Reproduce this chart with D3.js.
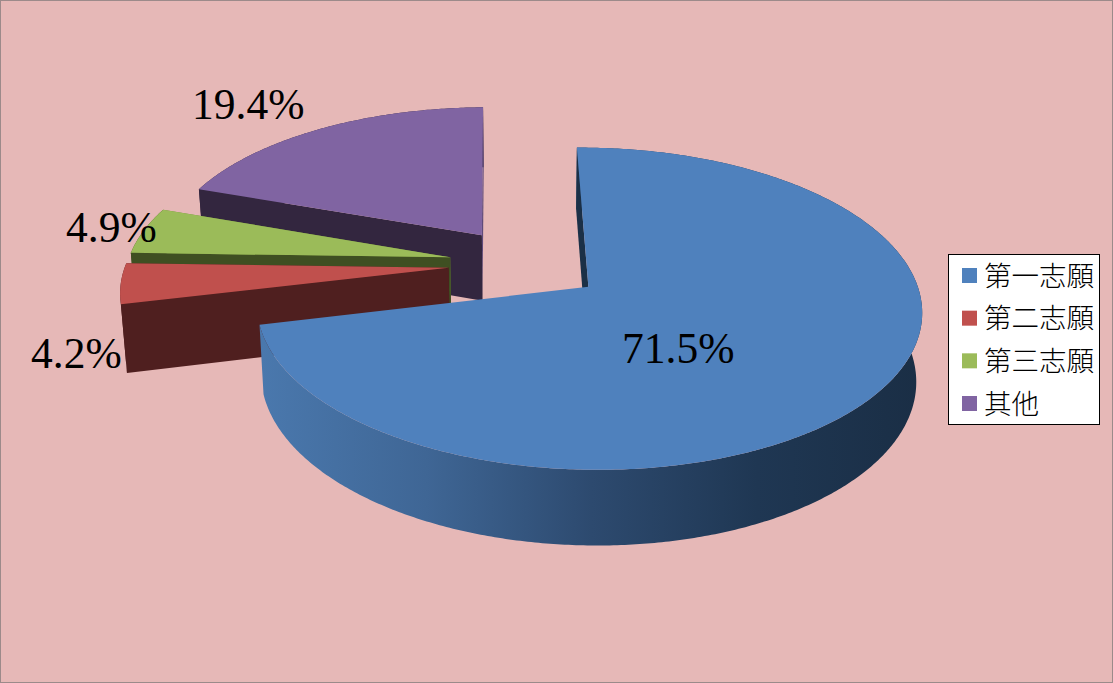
<!DOCTYPE html>
<html><head><meta charset="utf-8">
<style>html,body{margin:0;padding:0;background:#e6b8b7;overflow:hidden}svg{display:block}</style>
<script src="https://cdn.jsdelivr.net/npm/d3@7/dist/d3.min.js"></script>
</head><body><svg id="c" width="1113" height="683"></svg>
<script>
const categories = ["第一志願","第二志願","第三志願","其他"];
const values = [71.5,4.2,4.9,19.4];
const labels = ["71.5%","4.2%","4.9%","19.4%"];
const topColors = ["#4f81bd","#c0504d","#9bbb59","#8064a2"];
const wallColors = ["#1b3047","#4f1f1f","#3f4f22","#33263f"];
const labelPos = [[622,363],[31,368],[66,242],[192,119]];

const W=1113,H=683;
const svg=d3.select("#c");
svg.append("rect").attr("x",.5).attr("y",.5).attr("width",W-1).attr("height",H-1).attr("fill","#e6b8b7").attr("stroke","#9c8a8a");

// plan coordinates -> screen with a small perspective
const ox=526, oy=264, persp=.133, wallH=67, wallP=.1, vanish=.015;
const sx=d3.scaleLinear().domain([0,1]).range([ox,ox+323]);
const sy=d3.scaleLinear().domain([0,1]).range([oy,oy-152]);
const explode=.24;
const rot=-.8*Math.PI/180;
const pie=d3.pie().sort(null).value(d=>d).startAngle(rot).endAngle(rot+2*Math.PI);
const arcs=pie(values);

const proj=(X,Y,low)=>{
  const d=1+persp*Y;
  let x=sx(X/d), y=sy(Y/d);
  if(low){ y+=wallH/(1+wallP*Y); x+=(ox-x)*vanish; }
  return [x,y];
};
const line=d3.line();
const defs=svg.append("defs");
const g=defs.append("linearGradient").attr("id","blueWall").attr("gradientUnits","userSpaceOnUse")
  .attr("x1",261).attr("x2",922).attr("y1",0).attr("y2",0);
[[0,"#4a78ad"],[.25,"#3f6695"],[.5,"#2d4a6f"],[.75,"#1f3753"],[1,"#1a2e45"]].forEach(s=>g.append("stop").attr("offset",s[0]).attr("stop-color",s[1]));

function slice(a,i){
  const mid=(a.startAngle+a.endAngle)/2;
  const cx=explode*Math.sin(mid), cy=explode*Math.cos(mid);
  const steps=Math.max(8,Math.round((a.endAngle-a.startAngle)/.01));
  const angs=d3.range(steps+1).map(k=>a.startAngle+(a.endAngle-a.startAngle)*k/steps);
  const rim=angs.map(t=>[cx+Math.sin(t),cy+Math.cos(t)]);
  const apex=[cx,cy];
  const P=(p,low)=>proj(p[0],p[1],low);
  const G=svg.append("g").attr("class","slice");
  const wall=i===0?"url(#blueWall)":wallColors[i];
  const first=rim[0], last=rim[rim.length-1];
  const face=(p,c)=>G.append("path").attr("d",line([P(apex,false),P(p,false),P(p,true),P(apex,true)])+"Z").attr("fill",c);
  // outer wall
  G.append("path").attr("d",line(rim.map(p=>P(p,false)).concat(rim.slice().reverse().map(p=>P(p,true))))+"Z").attr("fill",wall);
  // side faces: the thin right-hand faces of the purple and green slices are lighter
  if(i===3){ face(last,"#5f4a7a"); face(first,wallColors[3]); }
  else if(i===2){ face(last,"#6f8a3a"); face(first,wallColors[2]); }
  else if(i===1){ face(last,wallColors[1]); face(first,wallColors[1]); }
  else { face(first,wallColors[0]); }
  // top face
  G.append("path").attr("d",line([P(apex,false)].concat(rim.map(p=>P(p,false))))+"Z").attr("fill",topColors[i]);
}
[3,2,1,0].forEach(i=>slice(arcs[i],i));

// data labels
svg.append("g").selectAll("text").data(labels).join("text")
  .attr("x",(d,i)=>labelPos[i][0]).attr("y",(d,i)=>labelPos[i][1])
  .attr("font-family","'Liberation Serif',serif").attr("font-size",43.5).attr("fill","#000").text(d=>d);

// legend
const lg=svg.append("g");
lg.append("rect").attr("x",948.5).attr("y",254.5).attr("width",151).attr("height",170).attr("fill","#fff").attr("stroke","#000");
const ly=d3.scalePoint().domain(categories).range([275.5,403.5]);
categories.forEach((c,i)=>{
  lg.append("rect").attr("x",962).attr("y",ly(c)-7.5).attr("width",15).attr("height",15).attr("fill",topColors[i]);
  lg.append("text").attr("x",984).attr("y",ly(c)+10).attr("font-family","'Noto Sans CJK TC',sans-serif").attr("font-weight",300).attr("font-size",27.5).attr("fill","#000").text(c);
});
</script></body></html>
